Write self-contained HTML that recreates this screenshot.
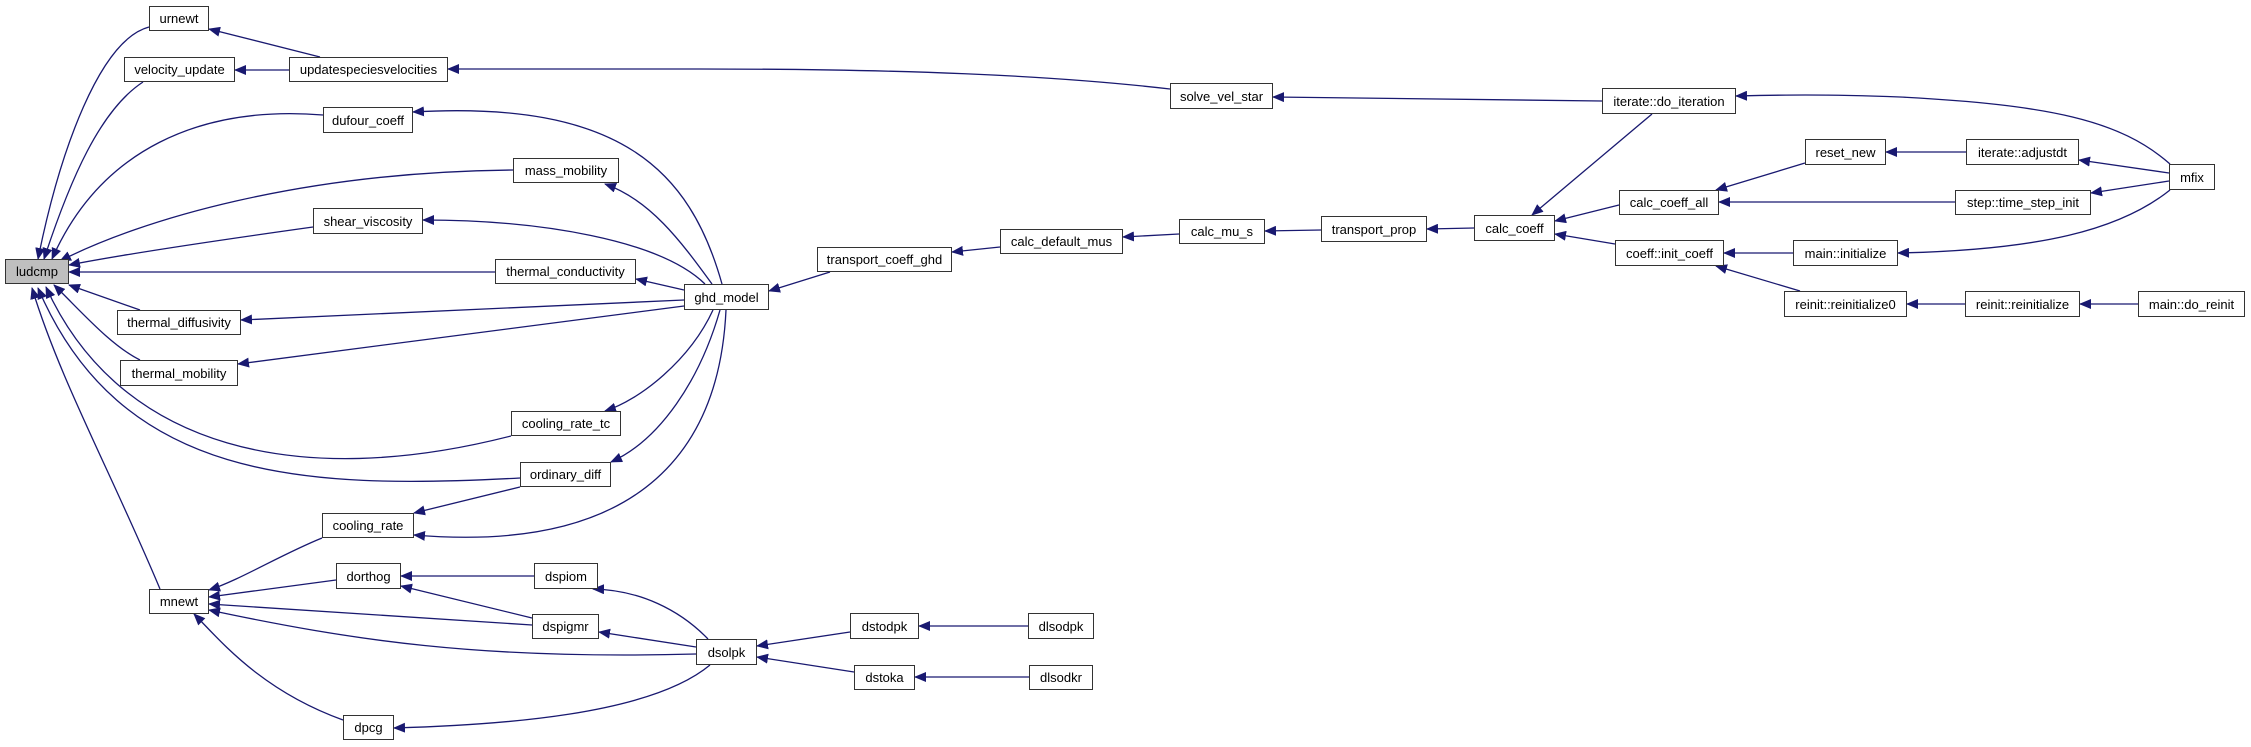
<!DOCTYPE html>
<html><head><meta charset="utf-8"><style>
body{margin:0;background:#fff;width:2251px;height:747px;overflow:hidden;position:relative;font-family:"Liberation Sans",Arial,sans-serif}
.n{position:absolute;box-sizing:border-box;border:1.5px solid #333;background:#fff;font-size:13px;display:flex;align-items:center;justify-content:center;white-space:nowrap;color:#000}
svg{position:absolute;left:0;top:0}
</style></head><body>
<svg width="2251" height="747" viewBox="0 0 2251 747">
<defs><marker id="a" markerWidth="12" markerHeight="10" refX="11" refY="5" orient="auto" markerUnits="userSpaceOnUse"><path d="M0,0 L12,5 L0,10 z" fill="#191970"/></marker></defs>
<g fill="none" stroke="#191970" stroke-width="1.3" marker-end="url(#a)">
<path d="M320,57 L209,29"/>
<path d="M289,70 L235,70"/>
<path d="M1170,89 C1050,75 900,69 700,69 L448,69"/>
<path d="M1602,101 L1273,97"/>
<path d="M2170,164 C2120,120 2050,105 1900,97 C1820,94 1780,95 1736,96"/>
<path d="M1652,114 L1532,215"/>
<path d="M1619,205 L1555,221"/>
<path d="M1615,244 L1555,234"/>
<path d="M1805,163 L1716,190"/>
<path d="M1966,152 L1886,152"/>
<path d="M2169,173 L2079,160"/>
<path d="M1955,202 L1719,202"/>
<path d="M2169,181 L2091,193"/>
<path d="M2170,190 C2120,230 2040,250 1898,253"/>
<path d="M1793,253 L1724,253"/>
<path d="M1800,291 L1716,266"/>
<path d="M1965,304 L1907,304"/>
<path d="M2138,304 L2080,304"/>
<path d="M1474,228 L1427,229"/>
<path d="M1321,230 L1265,231"/>
<path d="M1179,234 L1123,237"/>
<path d="M1000,247 L952,252"/>
<path d="M830,272 L769,291"/>
<path d="M722,284 C690,170 620,100 413,112"/>
<path d="M712,284 C680,240 650,200 605,184"/>
<path d="M705,284 C660,240 540,220 423,220"/>
<path d="M684,290 L636,279"/>
<path d="M684,300 L241,320"/>
<path d="M684,306 L238,364"/>
<path d="M713,310 C690,360 640,400 605,411"/>
<path d="M720,310 C700,380 660,440 611,462"/>
<path d="M726,310 C720,440 650,555 414,535"/>
<path d="M149,27 C100,40 60,150 38,259"/>
<path d="M143,82 C100,110 70,180 44,259"/>
<path d="M323,115 C200,105 100,150 52,259"/>
<path d="M513,170 C300,172 140,220 60,261"/>
<path d="M313,227 C220,240 120,255 69,265"/>
<path d="M495,272 L69,272"/>
<path d="M140,310 L69,285"/>
<path d="M140,360 C110,345 80,310 54,285"/>
<path d="M511,436 C300,490 120,450 46,287"/>
<path d="M520,478 C300,490 120,480 38,288"/>
<path d="M160,589 C110,470 60,380 32,288"/>
<path d="M520,487 L414,513"/>
<path d="M322,538 C280,555 240,580 209,590"/>
<path d="M336,580 L209,597"/>
<path d="M532,625 L209,604"/>
<path d="M696,654 C480,660 350,640 209,610"/>
<path d="M343,720 C260,690 220,640 194,614"/>
<path d="M534,576 L401,576"/>
<path d="M532,618 L401,586"/>
<path d="M708,639 C680,610 640,590 593,589"/>
<path d="M696,647 L599,632"/>
<path d="M710,665 C650,715 500,725 394,728"/>
<path d="M850,632 L757,646"/>
<path d="M854,672 L757,657"/>
<path d="M1028,626 L919,626"/>
<path d="M1029,677 L915,677"/>
</g></svg>
<div class="n" style="left:5px;top:259px;width:64px;height:25px;background:#bfbfbf">ludcmp</div>
<div class="n" style="left:149px;top:6px;width:60px;height:25px">urnewt</div>
<div class="n" style="left:124px;top:57px;width:111px;height:25px">velocity_update</div>
<div class="n" style="left:289px;top:57px;width:159px;height:25px">updatespeciesvelocities</div>
<div class="n" style="left:323px;top:107px;width:90px;height:26px">dufour_coeff</div>
<div class="n" style="left:513px;top:158px;width:106px;height:25px">mass_mobility</div>
<div class="n" style="left:313px;top:208px;width:110px;height:26px">shear_viscosity</div>
<div class="n" style="left:495px;top:259px;width:141px;height:25px">thermal_conductivity</div>
<div class="n" style="left:684px;top:284px;width:85px;height:26px">ghd_model</div>
<div class="n" style="left:117px;top:310px;width:124px;height:25px">thermal_diffusivity</div>
<div class="n" style="left:120px;top:360px;width:118px;height:26px">thermal_mobility</div>
<div class="n" style="left:511px;top:411px;width:110px;height:25px">cooling_rate_tc</div>
<div class="n" style="left:520px;top:462px;width:91px;height:25px">ordinary_diff</div>
<div class="n" style="left:322px;top:513px;width:92px;height:25px">cooling_rate</div>
<div class="n" style="left:336px;top:563px;width:65px;height:26px">dorthog</div>
<div class="n" style="left:534px;top:563px;width:64px;height:26px">dspiom</div>
<div class="n" style="left:149px;top:589px;width:60px;height:25px">mnewt</div>
<div class="n" style="left:532px;top:614px;width:67px;height:25px">dspigmr</div>
<div class="n" style="left:696px;top:639px;width:61px;height:26px">dsolpk</div>
<div class="n" style="left:343px;top:715px;width:51px;height:25px">dpcg</div>
<div class="n" style="left:850px;top:613px;width:69px;height:26px">dstodpk</div>
<div class="n" style="left:1028px;top:613px;width:66px;height:26px">dlsodpk</div>
<div class="n" style="left:854px;top:665px;width:61px;height:25px">dstoka</div>
<div class="n" style="left:1029px;top:665px;width:64px;height:25px">dlsodkr</div>
<div class="n" style="left:1170px;top:83px;width:103px;height:26px">solve_vel_star</div>
<div class="n" style="left:817px;top:247px;width:135px;height:25px">transport_coeff_ghd</div>
<div class="n" style="left:1000px;top:229px;width:123px;height:25px">calc_default_mus</div>
<div class="n" style="left:1179px;top:219px;width:86px;height:25px">calc_mu_s</div>
<div class="n" style="left:1321px;top:216px;width:106px;height:26px">transport_prop</div>
<div class="n" style="left:1474px;top:215px;width:81px;height:26px">calc_coeff</div>
<div class="n" style="left:1602px;top:88px;width:134px;height:26px">iterate::do_iteration</div>
<div class="n" style="left:1805px;top:139px;width:81px;height:26px">reset_new</div>
<div class="n" style="left:1966px;top:139px;width:113px;height:26px">iterate::adjustdt</div>
<div class="n" style="left:2169px;top:164px;width:46px;height:26px">mfix</div>
<div class="n" style="left:1619px;top:190px;width:100px;height:25px">calc_coeff_all</div>
<div class="n" style="left:1955px;top:190px;width:136px;height:25px">step::time_step_init</div>
<div class="n" style="left:1615px;top:240px;width:109px;height:26px">coeff::init_coeff</div>
<div class="n" style="left:1793px;top:240px;width:105px;height:26px">main::initialize</div>
<div class="n" style="left:1784px;top:291px;width:123px;height:26px">reinit::reinitialize0</div>
<div class="n" style="left:1965px;top:291px;width:115px;height:26px">reinit::reinitialize</div>
<div class="n" style="left:2138px;top:291px;width:107px;height:26px">main::do_reinit</div>
</body></html>
